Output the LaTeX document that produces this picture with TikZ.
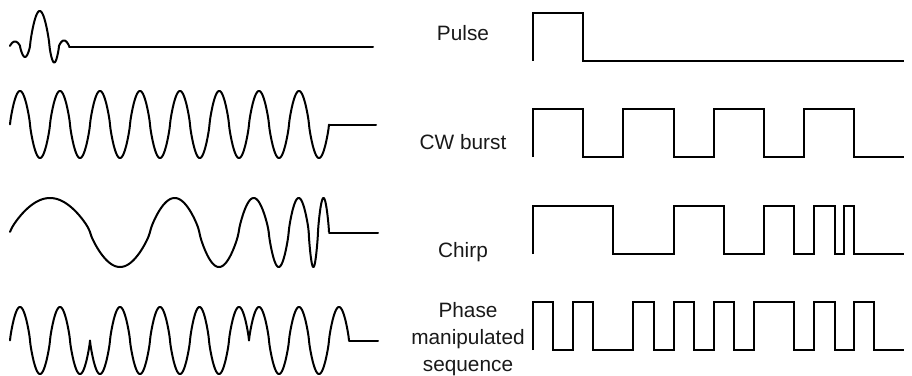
\documentclass[tikz,border=0pt]{standalone}
\usepackage{fontspec}
\setmainfont{Liberation Sans}
\newcommand{\halfwaves}[2]{%
  \foreach \a/\b/\m in {#2} {
    \draw[wave] plot[variable=\t,domain=0:1,samples=41] ({\a+(\b-\a)*\t},{#1-\m*pow(max(sin(180*\t),0.001),0.8)});
  }}
\tikzset{
  wave/.style={line width=1.5pt,line cap=round,line join=round,black},
  square/.style={line width=1.5pt,line cap=butt,line join=miter,black},
  lbl/.style={font=\fontsize{15.6pt}{18pt}\selectfont,anchor=base,inner sep=0pt,text=black!90}
}
\begin{document}
\begin{tikzpicture}[x=0.75pt,y=-0.75pt]
\useasboundingbox (0,0) rectangle (912,375);
% left: pulse
\halfwaves{46}{10/20/4.5,20/30/-11,30/49.5/35,49.5/59/-16.5,59/69/5.5}
\draw[wave] (69,47) -- (373,47);
% left: CW burst
\halfwaves{124.5}{10/30/33.5,30/50/-33.5,50/70/33.5,70/90/-33.5,90/110/33.5,110/130/-33.5,130/150/33.5,150/170/-33.5,170/190/33.5,190/209.5/-33.5,209.5/229/33.5,229/249/-33.5,249/269/33.5,269/289/-33.5,289/309/33.5,309/329/-33.5}
\draw[wave] (329,125) -- (376,125);
% left: chirp
\halfwaves{232}{10/90/34,90/150/-35,150/199.3/34,199.3/238.7/-35,238.7/268.7/34,268.7/288.7/-35,288.7/308.7/34,308.7/318/-35,318/329/34}
\draw[wave] (329,233) -- (378,233);
% left: phase manipulated
\halfwaves{340.5}{10/30/33.5,30/50/-33.5,50/70/33.5,70/90/-33.5,90/110/-33.5,110/130/33.5,130/150/-33.5,150/170/33.5,170/190/-33.5,190/209/33.5,209/229/-33.5,229/249/33.5,249/269/33.5,269/289/-33.5,289/309/33.5,309/329/-33.5,329/349/33.5}
\draw[wave] (349,341) -- (378,341);
% right: square waves
\draw[square] (533,60.5) |- (583,12.5) |- (904,60.5);
\draw[square] (533,157) -- (533,109) -- (583,109) -- (583,157) -- (623,157) -- (623,109) -- (674,109) -- (674,157) -- (713.5,157) -- (713.5,109) -- (764,109) -- (764,157) -- (804,157) -- (804,109) -- (854,109) -- (854,157) -- (904,157);
\draw[square] (533,254) -- (533,205.5) -- (613,205.5) -- (613,254) -- (673.5,254) -- (673.5,205.5) -- (723.5,205.5) -- (723.5,254) -- (764,254) -- (764,205.5) -- (794,205.5) -- (794,254) -- (814,254) -- (814,205.5) -- (834.5,205.5) -- (834.5,254) -- (844,254) -- (844,205.5) -- (854,205.5) -- (854,254) -- (904,254);
\draw[square] (533,350) -- (533,302) -- (553,302) -- (553,350) -- (573,350) -- (573,302) -- (593,302) -- (593,350) -- (633,350) -- (633,302) -- (653.5,302) -- (653.5,350) -- (673.5,350) -- (673.5,302) -- (693.5,302) -- (693.5,350) -- (713.5,350) -- (713.5,302) -- (733.5,302) -- (733.5,350) -- (753.5,350) -- (753.5,302) -- (794,302) -- (794,350) -- (814,350) -- (814,302) -- (834.5,302) -- (834.5,350) -- (854,350) -- (854,302) -- (874,302) -- (874,350) -- (904,350);
% labels
\node[lbl] (pulse) at (463,40) {Pulse};
\node[lbl] (cw) at (463,149) {CW burst};
\node[lbl] (chirp) at (463,257) {Chirp};
\node[lbl] (phase) at (468,317) {Phase};
\node[lbl] (manip) at (468,344) {manipulated};
\node[lbl] (seq) at (468,371) {sequence};
\end{tikzpicture}
\end{document}
